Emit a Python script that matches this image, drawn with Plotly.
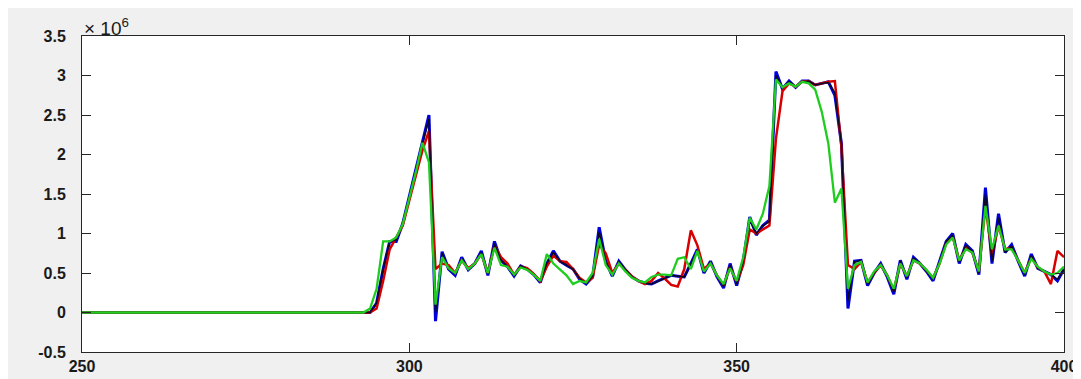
import plotly.graph_objects as go

x_flat = list(range(250, 293))
x_vals = list(range(293, 401))

blue = [0, 0.0, 0.12, 0.55, 0.9, 0.9, 1.13, 1.47, 1.80, 2.13, 2.5,
        -0.11, 0.77, 0.55, 0.47, 0.70, 0.54, 0.62, 0.78, 0.47, 0.90,
        0.66, 0.58, 0.46, 0.59, 0.55, 0.48, 0.38, 0.62, 0.78, 0.65,
        0.60, 0.55, 0.42, 0.36, 0.45, 1.08, 0.65, 0.46, 0.65, 0.54,
        0.45, 0.40, 0.37, 0.36, 0.40, 0.44, 0.47, 0.46, 0.45, 0.62,
        0.80, 0.50, 0.65, 0.45, 0.31, 0.62, 0.34, 0.65, 1.21, 0.98,
        1.10, 1.17, 3.05, 2.83, 2.93, 2.85, 2.93, 2.93, 2.88, 2.90,
        2.92, 2.75, 2.14, 0.05, 0.65, 0.66, 0.34, 0.50, 0.62, 0.45,
        0.23, 0.66, 0.42, 0.70, 0.62, 0.52, 0.40, 0.65, 0.90, 1.0,
        0.62, 0.86, 0.78, 0.48, 1.58, 0.62, 1.25, 0.76, 0.86, 0.65,
        0.46, 0.74, 0.56, 0.52, 0.48, 0.40, 0.55]

black = [0, 0.0, 0.12, 0.55, 0.9, 0.92, 1.13, 1.47, 1.80, 2.13, 2.45,
         0.0, 0.75, 0.55, 0.49, 0.68, 0.55, 0.62, 0.76, 0.49, 0.87,
         0.66, 0.58, 0.47, 0.59, 0.55, 0.48, 0.40, 0.62, 0.76, 0.65,
         0.60, 0.55, 0.43, 0.37, 0.46, 1.02, 0.64, 0.47, 0.64, 0.54,
         0.45, 0.40, 0.37, 0.36, 0.40, 0.44, 0.47, 0.46, 0.45, 0.62,
         0.78, 0.51, 0.64, 0.46, 0.33, 0.60, 0.36, 0.65, 1.17, 1.0,
         1.10, 1.15, 3.0, 2.85, 2.92, 2.86, 2.92, 2.93, 2.88, 2.90,
         2.91, 2.78, 2.14, 0.15, 0.64, 0.66, 0.36, 0.50, 0.61, 0.46,
         0.26, 0.65, 0.44, 0.69, 0.62, 0.52, 0.42, 0.64, 0.90, 0.98,
         0.64, 0.85, 0.77, 0.50, 1.50, 0.65, 1.20, 0.76, 0.84, 0.65,
         0.48, 0.72, 0.56, 0.52, 0.48, 0.42, 0.55]

red = [0, 0.0, 0.05, 0.40, 0.80, 0.95, 1.10, 1.42, 1.75, 2.05, 2.30,
       0.55, 0.62, 0.60, 0.50, 0.66, 0.56, 0.62, 0.74, 0.50, 0.85,
       0.70, 0.62, 0.48, 0.58, 0.56, 0.49, 0.40, 0.58, 0.72, 0.65,
       0.64, 0.55, 0.44, 0.38, 0.44, 0.86, 0.75, 0.50, 0.62, 0.54,
       0.46, 0.40, 0.36, 0.40, 0.50, 0.43, 0.35, 0.33, 0.55, 1.04,
       0.85, 0.55, 0.62, 0.47, 0.34, 0.58, 0.38, 0.60, 1.05, 1.00,
       1.05, 1.10, 2.20, 2.80, 2.90, 2.86, 2.92, 2.93, 2.88, 2.90,
       2.92, 2.93, 2.10, 0.60, 0.55, 0.64, 0.38, 0.50, 0.60, 0.47,
       0.28, 0.62, 0.46, 0.66, 0.62, 0.53, 0.44, 0.62, 0.88, 0.96,
       0.66, 0.82, 0.76, 0.52, 1.35, 0.72, 1.10, 0.80, 0.82, 0.66,
       0.50, 0.70, 0.57, 0.52, 0.36, 0.78, 0.70]

green = [0, 0.05, 0.30, 0.90, 0.90, 0.95, 1.12, 1.45, 1.78, 2.15, 1.90,
         0.10, 0.70, 0.56, 0.50, 0.66, 0.55, 0.62, 0.74, 0.50, 0.82,
         0.60, 0.58, 0.48, 0.57, 0.54, 0.48, 0.40, 0.74, 0.62, 0.55,
         0.47, 0.36, 0.40, 0.38, 0.50, 0.93, 0.60, 0.48, 0.62, 0.52,
         0.44, 0.40, 0.38, 0.45, 0.48, 0.48, 0.47, 0.68, 0.70, 0.55,
         0.78, 0.52, 0.62, 0.47, 0.36, 0.56, 0.40, 0.70, 1.20, 1.05,
         1.25, 1.60, 2.95, 2.85, 2.90, 2.86, 2.92, 2.90, 2.82, 2.54,
         2.14, 1.39, 1.57, 0.30, 0.60, 0.64, 0.38, 0.52, 0.60, 0.47,
         0.30, 0.62, 0.46, 0.66, 0.62, 0.54, 0.44, 0.62, 0.86, 0.95,
         0.66, 0.80, 0.76, 0.52, 1.35, 0.80, 1.10, 0.80, 0.80, 0.66,
         0.50, 0.68, 0.58, 0.52, 0.48, 0.50, 0.58]

scale = 1e6
flat = [0.0] * len(x_flat)
x_all = x_flat + x_vals

y_ticks = [-0.5, 0, 0.5, 1, 1.5, 2, 2.5, 3, 3.5]
y_ticktext = ["-0.5", "0", "0.5", "1", "1.5", "2", "2.5", "3", "3.5"]
x_ticks = [250, 300, 350, 400]

fig = go.Figure()
series = [
    (blue, "rgb(0,0,220)", 3.0),
    (red, "rgb(215,0,0)", 2.5),
    (black, "rgb(10,10,35)", 1.5),
    (green, "rgb(30,205,30)", 2.3),
]
for vals, col, w in series:
    fig.add_trace(go.Scatter(
        x=x_all, y=[v * scale for v in flat + vals], mode="lines",
        line=dict(color=col, width=w), showlegend=False, hoverinfo="skip"))

tfont = dict(family="Liberation Sans, Arial, sans-serif", size=16, color="#1a1a1a")
fig.update_layout(
    width=1081, height=379,
    margin=dict(l=74, r=20, t=28, b=22),
    paper_bgcolor="#f0f0f0", plot_bgcolor="white",
    font=tfont,
    xaxis=dict(range=[250, 400], tickvals=x_ticks,
               ticktext=["<b>%d</b>" % t for t in x_ticks],
               showgrid=False, zeroline=False, showline=True, linecolor="#262626",
               linewidth=1, mirror="ticks", ticks="inside", ticklen=9,
               tickcolor="#262626", tickfont=tfont, ticklabelstandoff=0),
    yaxis=dict(range=[-0.5 * scale, 3.5 * scale], tickvals=[t * scale for t in y_ticks],
               ticktext=["<b>%s</b>" % t for t in y_ticktext],
               showgrid=False, zeroline=False, showline=True,
               linecolor="#262626", linewidth=1, mirror="ticks", ticks="inside",
               ticklen=9, tickcolor="#262626", tickfont=tfont,
               ticklabelstandoff=12),
)
fig.add_annotation(text="× 10<sup>6</sup>", xref="paper", yref="paper", x=0.0, y=1.0,
                   xanchor="left", yanchor="bottom", showarrow=False,
                   font=dict(size=19, family="Liberation Sans, Arial", color="#1a1a1a"),
                   yshift=-5, xshift=0)
fig.write_html("out.html")
